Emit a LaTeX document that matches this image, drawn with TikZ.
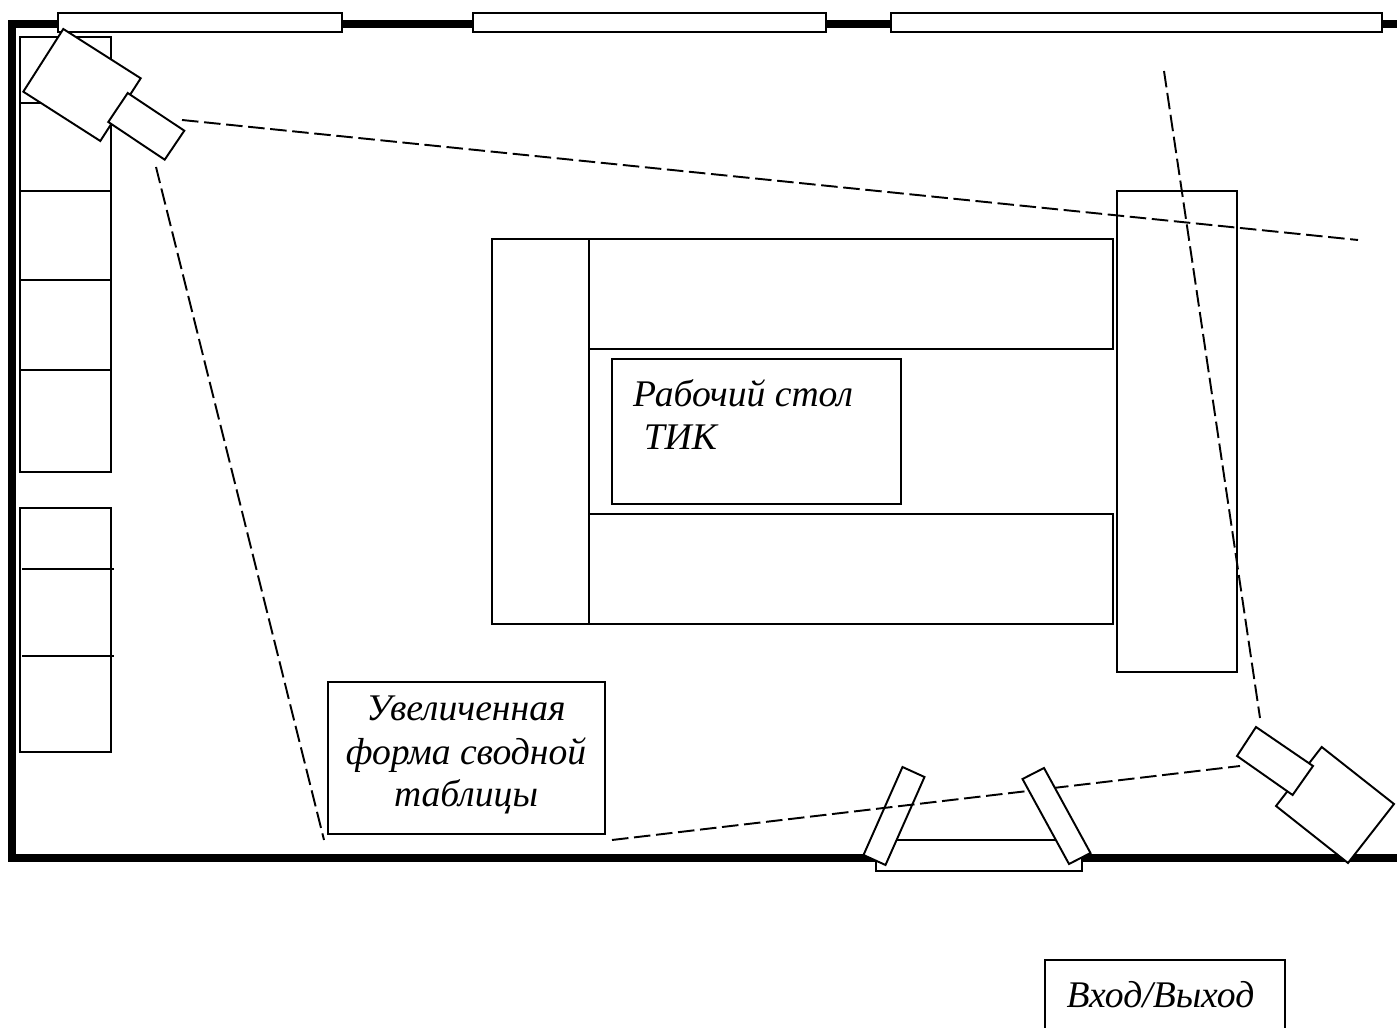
\documentclass[tikz,border=0pt]{standalone}
\usepackage{fontspec}
\setmainfont{Liberation Serif}
\tikzstyle{wall}=[line width=2.3pt, line join=miter]
\tikzstyle{item}=[draw, fill=white, line width=0.55pt]
\tikzstyle{sight}=[line width=0.55pt, dash pattern=on 4.7pt off 1.6pt]
\tikzstyle{txt}=[font=\fontsize{10.7pt}{12pt}\selectfont\itshape, inner sep=0pt]

\begin{document}
\begin{tikzpicture}[x=0.01cm, y=-0.01cm]
      \useasboundingbox (0,0) rectangle (1397,1028);
      \coordinate (sightAa) at (182,120);
      \coordinate (sightAb) at (1358,240);
      \coordinate (sightBa) at (156,167);
      \coordinate (sightBb) at (324,840);
      \coordinate (sightCa) at (1164,71);
      \coordinate (sightCb) at (1260,718);
      \coordinate (sightDa) at (612,840);
      \coordinate (sightDb) at (1240,766);
      % room
      \draw[wall] (1400,24) -- (12,24) -- (12,858) -- (1400,858);
      \foreach \xa/\xb in {58/342, 473/826, 891/1382} {%
        \draw[item] (\xa,13) rectangle (\xb,32);
      }
      % cupboards
      \draw[item] (20,37) rectangle (111,472);
      \foreach \y in {103, 191, 280, 370} {%
        \draw[line width=0.55pt] (20,\y) -- (111,\y);
      }
      \draw[item] (20,508) rectangle (111,752);
      \foreach \y in {569, 656} {%
        \draw[line width=0.55pt] (22,\y) -- (114,\y);
      }
      % tables
      \draw[item] (492,239) rectangle (589,624);
      \draw[item] (589,239) rectangle (1113,349);
      \draw[item] (589,514) rectangle (1113,624);
      \draw[item] (1117,191) rectangle (1237,672);
      \node[item, minimum width=2.89cm, minimum height=1.45cm] (desk) at (756.5,431.5) {};
      \node[txt, align=left, anchor=north west] (desktext) at (632.5,378.5) {Рабочий стол\\[0.3pt]\hspace{3pt}ТИК};
      \node[item, minimum width=2.77cm, minimum height=1.52cm] (table) at (466.5,758) {};
      \node[txt, align=center] (tabletext) at (466,755) {Увеличенная\\[0.4pt]форма сводной\\[0pt]таблицы};
      \node[item, minimum width=2.4cm, minimum height=0.9cm] (exit) at (1165,1005) {};
      \node[txt] (exittext) at (1160.5,995) {Вход/Выход};
      % door
      \draw[item] (876,840) rectangle (1082,871);
      \draw[item] (902.5,767) -- (924.5,777) -- (885.5,865) -- (863.5,855) -- cycle;
      % lines of sight
      \draw[sight] (sightAa) -- (sightAb);
      \draw[sight] (sightBa) -- (sightBb);
      \draw[sight] (sightCa) -- (sightCb);
      \draw[sight] (sightDa) -- (sightDb);
      \draw[item] (1022.5,779) -- (1044,768) -- (1090.5,853) -- (1069,864) -- cycle;
      % cameras
      \draw[item] (63.3,29) -- (140.7,78.3) -- (100.3,141) -- (23.3,91.7) -- cycle;
      \draw[item] (127.7,93) -- (184.3,130.7) -- (164.7,159.7) -- (108.3,122) -- cycle;
      \draw[item] (1321.7,747) -- (1394,804) -- (1348,863) -- (1276,806) -- cycle;
      \draw[item] (1256,727) -- (1313,766) -- (1292.6,795) -- (1237,756) -- cycle;
    \end{tikzpicture}
\end{document}
